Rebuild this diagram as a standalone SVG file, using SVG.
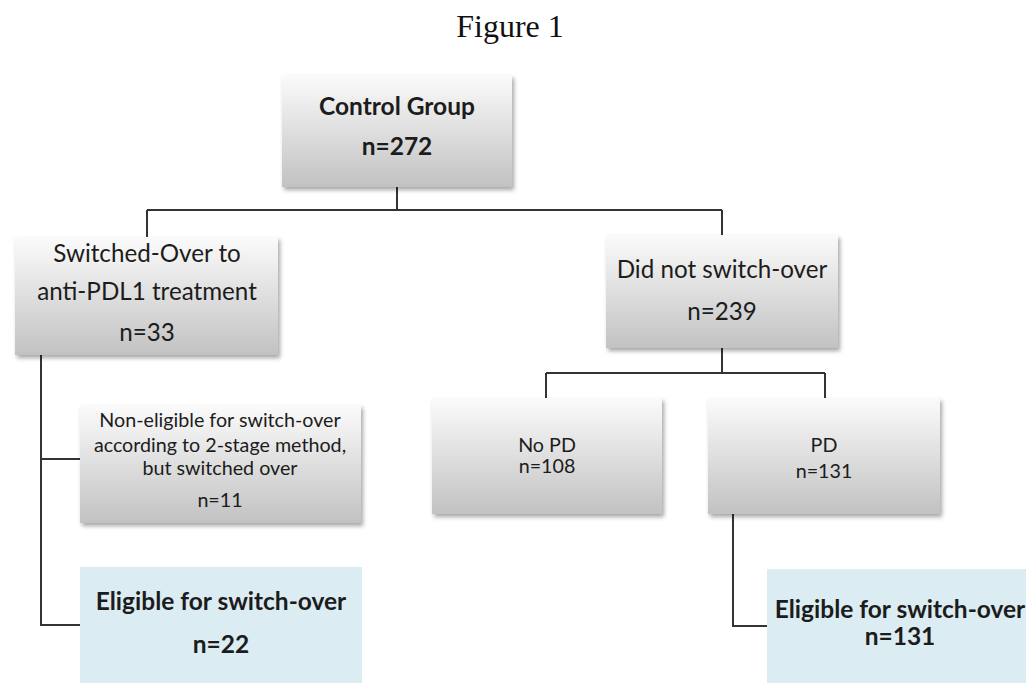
<svg xmlns="http://www.w3.org/2000/svg" width="1026" height="683" viewBox="0 0 1026 683">
  <defs>
    <linearGradient id="grey" x1="0" y1="0" x2="0" y2="1">
      <stop offset="0" stop-color="#fbfbfb"/>
      <stop offset="1" stop-color="#c2c2c2"/>
    </linearGradient>
    <filter id="shadow" x="-10%" y="-10%" width="125%" height="130%">
      <feDropShadow dx="2" dy="3" stdDeviation="2" flood-color="#000" flood-opacity="0.35"/>
    </filter>
  </defs>
  <style>
    .box { fill: url(#grey); filter: url(#shadow); }
    .blue { fill: #dbecf3; }
    .t { font-family: Lato, "Open Sans", sans-serif; fill: #1c1c1c; text-anchor: middle; }
    .b { font-weight: bold; font-size: 24.5px; }
    .lg { font-size: 24.2px; }
    .sm { font-size: 19.7px; }
    .conn { fill: none; stroke: #333; stroke-width: 2; }
  </style>

  <rect width="1026" height="683" fill="#fff"/>

  <text x="510" y="37" font-family="'Liberation Serif', serif" font-size="32" fill="#111" text-anchor="middle">Figure 1</text>

  <g id="connectors">
    <path class="conn" d="M397 187 V210 M147 210 H722 M147 210 V237 M722 210 V235"/>
    <path class="conn" d="M722 348 V373 M546 373 H825 M546 373 V398 M825 373 V398"/>
    <path class="conn" d="M41 355 V625 H80 M41 459 H80"/>
    <path class="conn" d="M733 514 V626 H767"/>
  </g>

  <g id="control">
    <rect class="box" x="282" y="75" width="230" height="112"/>
    <text class="t b" x="397" y="115">Control Group</text>
    <text class="t b" x="397" y="155">n=272</text>
  </g>

  <g id="switched">
    <rect class="box" x="15" y="237" width="263" height="118"/>
    <text class="t lg" x="147" y="262">Switched-Over to</text>
    <text class="t lg" x="147" y="300">anti-PDL1 treatment</text>
    <text class="t lg" x="147" y="341">n=33</text>
  </g>

  <g id="notswitched">
    <rect class="box" x="606" y="235" width="232" height="113"/>
    <text class="t lg" x="722" y="278">Did not switch-over</text>
    <text class="t lg" x="722" y="320">n=239</text>
  </g>

  <g id="nonEligible">
    <rect class="box" x="80" y="405" width="281" height="118"/>
    <text class="t sm" x="220" y="427">Non-eligible for switch-over</text>
    <text class="t sm" x="220" y="452">according to 2-stage method,</text>
    <text class="t sm" x="220" y="475">but switched over</text>
    <text class="t sm" x="220" y="507">n=11</text>
  </g>

  <g id="noPD">
    <rect class="box" x="432" y="398" width="230" height="116"/>
    <text class="t sm" x="547" y="452">No PD</text>
    <text class="t sm" x="547" y="473">n=108</text>
  </g>

  <g id="pd">
    <rect class="box" x="708" y="398" width="232" height="116"/>
    <text class="t sm" x="824" y="452">PD</text>
    <text class="t sm" x="824" y="478">n=131</text>
  </g>

  <g id="eligibleLeft">
    <rect class="blue" x="80" y="567" width="282" height="130"/>
    <text class="t b" x="221" y="610">Eligible for switch-over</text>
    <text class="t b" x="221" y="653">n=22</text>
  </g>

  <g id="eligibleRight">
    <rect class="blue" x="767" y="569" width="280" height="130"/>
    <text class="t b" x="900" y="618">Eligible for switch-over</text>
    <text class="t b" x="900" y="645">n=131</text>
  </g>
</svg>
